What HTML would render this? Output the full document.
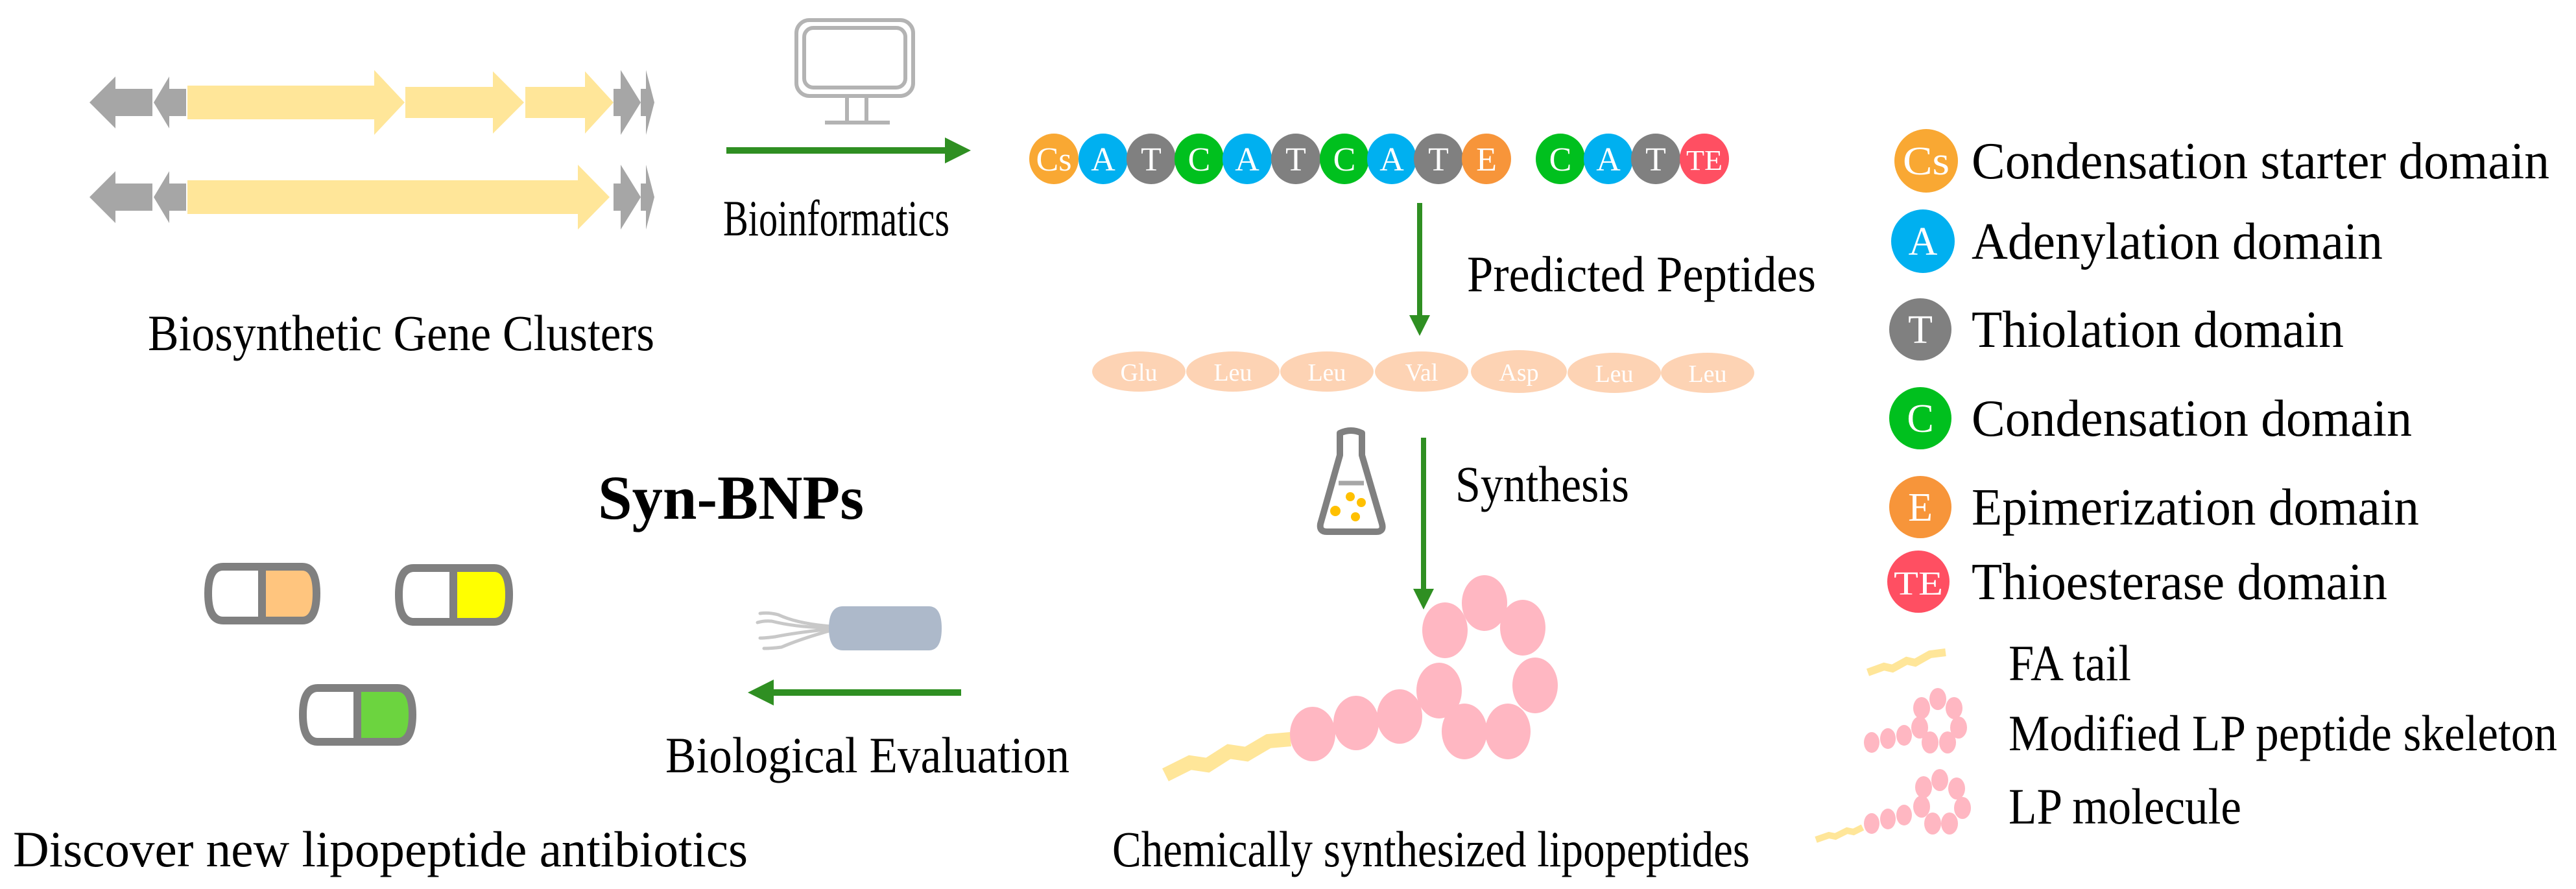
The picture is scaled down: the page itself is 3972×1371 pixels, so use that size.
<!DOCTYPE html>
<html><head><meta charset="utf-8"><style>
html,body{margin:0;padding:0;background:#fff;}
svg{display:block;}
text{font-family:"Liberation Serif","Times New Roman",serif;}
</style></head><body>
<svg width="3972" height="1371" viewBox="0 0 3972 1371" xmlns="http://www.w3.org/2000/svg" font-family="Liberation Serif, serif">
<defs>
<marker id="ah" markerWidth="4" markerHeight="4" refX="0.5" refY="2" orient="auto" markerUnits="strokeWidth"><path d="M0,0 L4,2 L0,4 Z" fill="#2f8f22"/></marker>
</defs>
<!-- Gene clusters -->
<g fill="#a6a6a6">
 <polygon points="138,158 178,118 178,137 235,137 235,179 178,179 178,198"/>
 <polygon points="237,158 261,118 261,137 287,137 287,179 261,179 261,198"/>
 <polygon points="946,137 957,137 957,108 988,158 957,208 957,179 946,179"/>
 <polygon points="988,137 996,137 996,108 1009,158 996,208 996,179 988,179"/>
 <polygon points="138,304 178,264 178,283 235,283 235,325 178,325 178,344"/>
 <polygon points="237,304 261,264 261,283 287,283 287,325 261,325 261,344"/>
 <polygon points="946,283 957,283 957,254 988,304 957,354 957,325 946,325"/>
 <polygon points="988,283 996,283 996,254 1009,304 996,354 996,325 988,325"/>
</g>
<g fill="#ffe699">
 <polygon points="289,132 577,132 577,108 624,158 577,208 577,184 289,184"/>
 <polygon points="625,134 760,134 760,110 808,158 760,206 760,182 625,182"/>
 <polygon points="810,134 902,134 902,110 946,158 902,206 902,182 810,182"/>
 <polygon points="289,278 891,278 891,254 940,304 891,354 891,330 289,330"/>
</g>
<text x="228" y="540" font-size="78" textLength="781" lengthAdjust="spacingAndGlyphs">Biosynthetic Gene Clusters</text>

<!-- Monitor -->
<g fill="none" stroke="#b3b3b3" stroke-width="6">
 <rect x="1228" y="31" width="180" height="117" rx="20"/>
 <rect x="1240" y="43" width="156" height="92" rx="14"/>
 <line x1="1306" y1="148" x2="1306" y2="188"/>
 <line x1="1336" y1="148" x2="1336" y2="188"/>
 <line x1="1272" y1="189" x2="1372" y2="189"/>
</g>
<line x1="1120" y1="232" x2="1462" y2="232" stroke="#2f8f22" stroke-width="10" marker-end="url(#ah)"/>
<text x="1115" y="363" font-size="78" textLength="349" lengthAdjust="spacingAndGlyphs">Bioinformatics</text>

<!-- Domain row -->
<g font-size="52" fill="#fff" text-anchor="middle">
 <ellipse cx="1625" cy="245" rx="38" ry="39" fill="#f9a833"/><text x="1625" y="263">Cs</text>
 <ellipse cx="1701" cy="245" rx="38" ry="39" fill="#00b0f0"/><text x="1701" y="263">A</text>
 <ellipse cx="1775" cy="245" rx="38" ry="39" fill="#808080"/><text x="1775" y="263">T</text>
 <ellipse cx="1849" cy="245" rx="38" ry="39" fill="#00c01e"/><text x="1849" y="263">C</text>
 <ellipse cx="1923" cy="245" rx="38" ry="39" fill="#00b0f0"/><text x="1923" y="263">A</text>
 <ellipse cx="1998" cy="245" rx="38" ry="39" fill="#808080"/><text x="1998" y="263">T</text>
 <ellipse cx="2073" cy="245" rx="38" ry="39" fill="#00c01e"/><text x="2073" y="263">C</text>
 <ellipse cx="2146" cy="245" rx="38" ry="39" fill="#00b0f0"/><text x="2146" y="263">A</text>
 <ellipse cx="2218" cy="245" rx="38" ry="39" fill="#808080"/><text x="2218" y="263">T</text>
 <ellipse cx="2292" cy="245" rx="38" ry="39" fill="#f7953a"/><text x="2292" y="263">E</text>
 <ellipse cx="2406" cy="245" rx="38" ry="39" fill="#00c01e"/><text x="2406" y="263">C</text>
 <ellipse cx="2480" cy="245" rx="38" ry="39" fill="#00b0f0"/><text x="2480" y="263">A</text>
 <ellipse cx="2553" cy="245" rx="38" ry="39" fill="#808080"/><text x="2553" y="263">T</text>
 <ellipse cx="2628" cy="245" rx="38" ry="39" fill="#ff4f62"/><text x="2628" y="262" font-size="44" textLength="56" lengthAdjust="spacingAndGlyphs">TE</text>
</g>
<line x1="2189" y1="313" x2="2189" y2="490" stroke="#2f8f22" stroke-width="8" marker-end="url(#ah)"/>
<text x="2262" y="449" font-size="78" textLength="538" lengthAdjust="spacingAndGlyphs">Predicted Peptides</text>

<!-- Peptides -->
<g fill="#fdd3b4">
 <ellipse cx="1756" cy="573" rx="72" ry="31"/><ellipse cx="1901" cy="573" rx="72" ry="31"/>
 <ellipse cx="2046" cy="573" rx="72" ry="31"/><ellipse cx="2192" cy="573" rx="72" ry="31"/>
 <ellipse cx="2342" cy="573" rx="74" ry="33"/><ellipse cx="2489" cy="575" rx="72" ry="31"/>
 <ellipse cx="2633" cy="575" rx="72" ry="31"/>
</g>
<g font-size="38" fill="#fff" text-anchor="middle">
 <text x="1756" y="587">Glu</text><text x="1901" y="587">Leu</text><text x="2046" y="587">Leu</text>
 <text x="2192" y="587">Val</text><text x="2342" y="587">Asp</text><text x="2489" y="589">Leu</text><text x="2633" y="589">Leu</text>
</g>

<!-- Flask -->
<g fill="none" stroke="#808080" stroke-width="10" stroke-linejoin="round">
 <path d="M2066,668 L2066,702 L2036,808 Q2034,820 2046,820 L2122,820 Q2134,820 2131,808 L2100,702 L2100,668 Q2083,660 2066,668 Z"/>
</g>
<line x1="2064" y1="745" x2="2103" y2="745" stroke="#a6a6a6" stroke-width="7"/>
<g fill="#ffc000">
 <circle cx="2082" cy="766" r="7"/><circle cx="2099" cy="775" r="7"/>
 <circle cx="2059" cy="788" r="8"/><circle cx="2090" cy="797" r="7"/>
</g>
<line x1="2195" y1="675" x2="2195" y2="912" stroke="#2f8f22" stroke-width="8" marker-end="url(#ah)"/>
<text x="2244" y="773" font-size="78" textLength="268" lengthAdjust="spacingAndGlyphs">Synthesis</text>

<!-- Lipopeptide -->
<polyline points="1797,1195 1835,1176 1862,1180 1895,1159 1922,1163 1956,1143 1990,1140" fill="none" stroke="#ffe699" stroke-width="22" stroke-linejoin="miter"/>
<g fill="#ffb7c2">
 <ellipse cx="2024" cy="1132" rx="35" ry="42"/><ellipse cx="2091" cy="1115" rx="35" ry="42"/>
 <ellipse cx="2158" cy="1105" rx="35" ry="42"/><ellipse cx="2219" cy="1065" rx="35" ry="43"/>
 <ellipse cx="2228" cy="972" rx="35" ry="43"/><ellipse cx="2289" cy="930" rx="35" ry="43"/>
 <ellipse cx="2348" cy="968" rx="35" ry="43"/><ellipse cx="2367" cy="1057" rx="35" ry="43"/>
 <ellipse cx="2325" cy="1128" rx="35" ry="43"/><ellipse cx="2258" cy="1128" rx="35" ry="43"/>
</g>
<text x="1715" y="1336" font-size="78" textLength="983" lengthAdjust="spacingAndGlyphs">Chemically synthesized lipopeptides</text>

<!-- Legend -->
<g font-size="62" fill="#fff" text-anchor="middle">
 <circle cx="2970" cy="248" r="49" fill="#f9a833"/><text x="2970" y="269" textLength="72" lengthAdjust="spacingAndGlyphs">Cs</text>
 <circle cx="2965" cy="372" r="49" fill="#00b0f0"/><text x="2965" y="393">A</text>
 <circle cx="2961" cy="508" r="48" fill="#808080"/><text x="2961" y="529">T</text>
 <circle cx="2961" cy="645" r="48" fill="#00c01e"/><text x="2961" y="666">C</text>
 <circle cx="2961" cy="782" r="48" fill="#f7953a"/><text x="2961" y="803">E</text>
 <circle cx="2958" cy="897" r="48" fill="#ff4f62"/><text x="2958" y="917" font-size="52" textLength="76" lengthAdjust="spacingAndGlyphs">TE</text>
</g>
<g font-size="80">
 <text x="3040" y="275" textLength="891" lengthAdjust="spacingAndGlyphs">Condensation starter domain</text>
 <text x="3040" y="399" textLength="634" lengthAdjust="spacingAndGlyphs">Adenylation domain</text>
 <text x="3040" y="535" textLength="574" lengthAdjust="spacingAndGlyphs">Thiolation domain</text>
 <text x="3040" y="672" textLength="679" lengthAdjust="spacingAndGlyphs">Condensation domain</text>
 <text x="3040" y="809" textLength="690" lengthAdjust="spacingAndGlyphs">Epimerization domain</text>
 <text x="3040" y="924" textLength="641" lengthAdjust="spacingAndGlyphs">Thioesterase domain</text>
</g>
<!-- lower legend -->
<polyline points="2880,1037 2905,1028 2918,1031 2940,1019 2953,1022 2976,1009 3000,1006" fill="none" stroke="#ffe699" stroke-width="12"/>
<g fill="#ffb7c2">
 <ellipse cx="2886" cy="1145" rx="12" ry="16"/><ellipse cx="2911" cy="1139" rx="12" ry="16"/>
 <ellipse cx="2936" cy="1134" rx="12" ry="16"/><ellipse cx="2960" cy="1122" rx="13" ry="17"/>
 <ellipse cx="2963" cy="1092" rx="13" ry="17"/><ellipse cx="2988" cy="1078" rx="13" ry="17"/>
 <ellipse cx="3013" cy="1092" rx="13" ry="17"/><ellipse cx="3020" cy="1122" rx="13" ry="17"/>
 <ellipse cx="3003" cy="1145" rx="13" ry="17"/><ellipse cx="2976" cy="1145" rx="13" ry="17"/>
</g>
<polyline points="2800,1295 2820,1288 2830,1290 2848,1281 2858,1283 2872,1276" fill="none" stroke="#ffe699" stroke-width="10"/>
<g fill="#ffb7c2">
 <ellipse cx="2886" cy="1270" rx="12" ry="16"/><ellipse cx="2911" cy="1263" rx="12" ry="16"/>
 <ellipse cx="2936" cy="1257" rx="12" ry="16"/><ellipse cx="2963" cy="1244" rx="13" ry="17"/>
 <ellipse cx="2966" cy="1214" rx="13" ry="17"/><ellipse cx="2991" cy="1203" rx="13" ry="17"/>
 <ellipse cx="3017" cy="1216" rx="13" ry="17"/><ellipse cx="3026" cy="1246" rx="13" ry="17"/>
 <ellipse cx="3006" cy="1270" rx="13" ry="17"/><ellipse cx="2980" cy="1270" rx="13" ry="17"/>
</g>
<g font-size="78">
 <text x="3097" y="1049" textLength="189" lengthAdjust="spacingAndGlyphs">FA tail</text>
 <text x="3097" y="1157" textLength="846" lengthAdjust="spacingAndGlyphs">Modified LP peptide skeleton</text>
 <text x="3097" y="1270" textLength="359" lengthAdjust="spacingAndGlyphs">LP molecule</text>
</g>

<!-- Left bottom -->
<text x="922" y="800" font-size="96" font-weight="bold" textLength="410" lengthAdjust="spacingAndGlyphs">Syn-BNPs</text>
<g stroke="#808080" stroke-width="12">
 <path d="M404,874 L466,874 Q488,874 488,915 Q488,957 466,957 L404,957 Z" fill="#ffc57e"/>
 <path d="M404,874 L344,874 Q321,874 321,915 Q321,957 344,957 L404,957" fill="#fff"/>
 <line x1="404" y1="874" x2="404" y2="957"/>
 <path d="M699,876 L762,876 Q785,876 785,917 Q785,959 762,959 L699,959 Z" fill="#ffff00"/>
 <path d="M699,876 L638,876 Q615,876 615,917 Q615,959 638,959 L699,959" fill="#fff"/>
 <line x1="699" y1="876" x2="699" y2="959"/>
 <path d="M551,1061 L613,1061 Q636,1061 636,1102 Q636,1144 613,1144 L551,1144 Z" fill="#6cd43f"/>
 <path d="M551,1061 L490,1061 Q467,1061 467,1102 Q467,1144 490,1144 L551,1144" fill="#fff"/>
 <line x1="551" y1="1061" x2="551" y2="1144"/>
</g>
<!-- bacterium -->
<g fill="none" stroke="#c8c8c8" stroke-width="5" stroke-linecap="round">
 <path d="M1282,966 Q1230,962 1200,948 Q1185,944 1172,946"/>
 <path d="M1282,968 Q1230,968 1190,958 Q1178,957 1168,960"/>
 <path d="M1282,970 Q1230,975 1195,982 Q1180,984 1172,984"/>
 <path d="M1282,972 Q1235,985 1205,998 Q1190,1000 1178,1000"/>
</g>
<path d="M1300,935 L1432,935 Q1452,935 1452,969 Q1452,1003 1432,1003 L1300,1003 Q1278,1003 1278,969 Q1278,935 1300,935 Z" fill="#adb9ca"/>
<line x1="1482" y1="1068" x2="1188" y2="1068" stroke="#2f8f22" stroke-width="10" marker-end="url(#ah)"/>
<text x="1026" y="1191" font-size="78" textLength="623" lengthAdjust="spacingAndGlyphs">Biological Evaluation</text>
<text x="20" y="1336" font-size="78" textLength="1133" lengthAdjust="spacingAndGlyphs">Discover new lipopeptide antibiotics</text>
</svg>
</body></html>
